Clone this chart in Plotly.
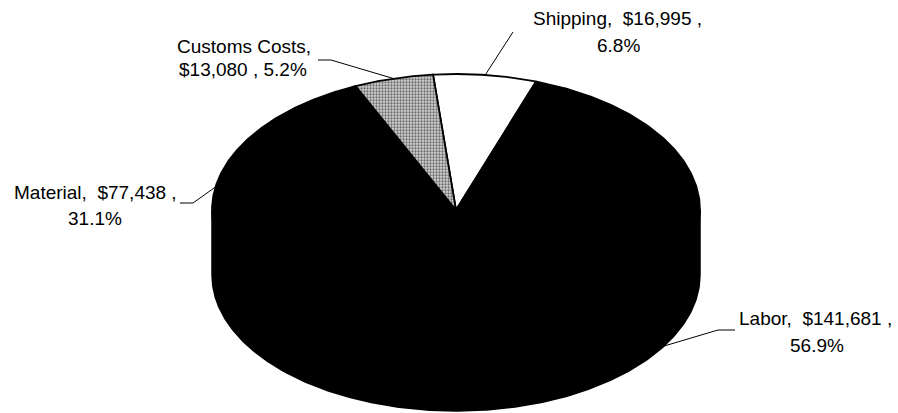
import numpy as np
import plotly.graph_objects as go

# Cost breakdown (clockwise from the top of the pie)
categories = ["Shipping", "Labor", "Material", "Customs Costs"]
values = [16995, 141681, 77438, 13080]
colors = ["#ffffff", "#000000", "#000000", "#c8c8c8"]
# stippled fill for the customs slice
patterns = [None, None, None, dict(shape=".", fgcolor="#000000", bgcolor="#d4d4d4",
                                   size=3, solidity=0.45)]
# whether the value moves onto the second label line with the percentage
value_on_second_line = [False, False, False, True]

# Pie geometry, in pixel units of the plotting area
W, H = 898, 413
CX, CY = 456, 210          # centre of the top face
RX, RY = 244, 136          # radii of the tilted (elliptical) top face
DEPTH = 65                 # thickness of the pie wall
START_DEG = -5.4           # angle of the first slice edge, clockwise from 12 o'clock

total = float(sum(values))
fractions = [v / total for v in values]
edges = START_DEG + 360.0 * np.concatenate([[0.0], np.cumsum(fractions)])


def rim(theta_deg, dy=0.0):
    t = np.radians(theta_deg)
    return CX + RX * np.sin(t), CY - RY * np.cos(t) + dy


fig = go.Figure()

# Front wall of the pie (visible between 90 and 270 degrees)
for i, cat in enumerate(categories):
    a0, a1 = max(edges[i], 90.0), min(edges[i + 1], 270.0)
    if a1 <= a0:
        continue
    th = np.linspace(a0, a1, 200)
    xt, yt = rim(th)
    xb, yb = rim(th[::-1], DEPTH)
    fig.add_trace(go.Scatter(
        x=np.concatenate([xt, xb, xt[:1]]), y=np.concatenate([yt, yb, yt[:1]]),
        mode="lines", fill="toself", fillcolor=colors[i],
        line=dict(color="black", width=1.5), hoverinfo="skip", showlegend=False))

# Top face slices
for i, cat in enumerate(categories):
    th = np.linspace(edges[i], edges[i + 1], 300)
    xs, ys = rim(th)
    kw = dict(fillpattern=patterns[i]) if patterns[i] else {}
    fig.add_trace(go.Scatter(
        x=np.concatenate([[CX], xs, [CX]]), y=np.concatenate([[CY], ys, [CY]]),
        mode="lines", fill="toself", fillcolor=colors[i],
        line=dict(color="black", width=1.8), name=cat,
        hoverinfo="name", showlegend=False, **kw))

# Data labels: centre of each line of text, and the elbow of the leader line
label_pos = {
    "Shipping": dict(l1=(617, 18), l2=(618, 45), leader=[(513, 32)]),
    "Labor": dict(l1=(815, 318), l2=(817, 345), leader=[(718, 330), (735, 330)]),
    "Material": dict(l1=(95, 192), l2=(95, 218), leader=[(193, 203), (180, 203)]),
    "Customs Costs": dict(l1=(244, 46), l2=(243, 69), leader=[(331, 60), (318, 60)]),
}

font = dict(family="Liberation Sans, Arial, sans-serif", size=19, color="black")
annotations = []
for i, cat in enumerate(categories):
    val = f"${values[i]:,}"
    pct = f"{fractions[i] * 100:.1f}%"
    if value_on_second_line[i]:
        line1, line2 = f"{cat},", f"{val} , {pct}"
    else:
        line1, line2 = f"{cat},\u00a0 {val} ,", pct
    pos = label_pos[cat]
    for txt, (tx, ty) in ((line1, pos["l1"]), (line2, pos["l2"])):
        annotations.append(dict(x=tx, y=ty, xref="x", yref="y", text=txt,
                                showarrow=False, xanchor="center", yanchor="middle",
                                font=font))
    # leader line from the rim at the slice's mid angle to the label
    mid = 0.5 * (edges[i] + edges[i + 1])
    px, py = rim(mid)
    if np.cos(np.radians(mid)) < 0:
        py += DEPTH
    lx = [px] + [p[0] for p in pos["leader"]]
    ly = [py] + [p[1] for p in pos["leader"]]
    fig.add_trace(go.Scatter(x=lx, y=ly, mode="lines",
                             line=dict(color="black", width=1),
                             hoverinfo="skip", showlegend=False))

fig.update_layout(
    width=W, height=H,
    margin=dict(l=0, r=0, t=0, b=0),
    paper_bgcolor="white", plot_bgcolor="white",
    xaxis=dict(range=[0, W], visible=False, fixedrange=True),
    yaxis=dict(range=[H, 0], visible=False, fixedrange=True),
    annotations=annotations,
)

fig.write_html("out.html")
